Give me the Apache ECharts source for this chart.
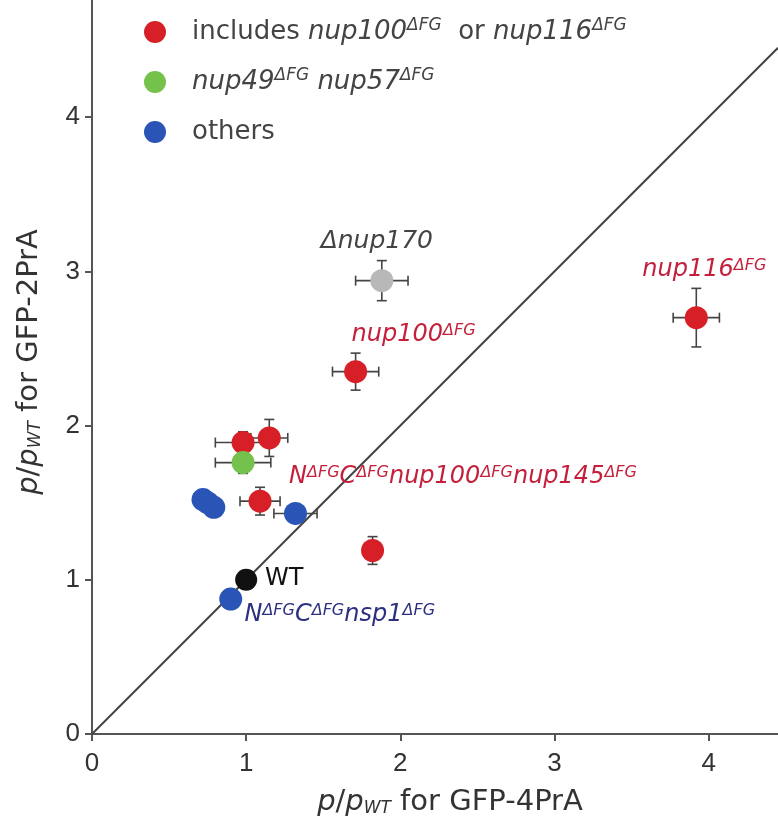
<!DOCTYPE html>
<html>
<head>
<meta charset="utf-8">
<script src="https://cdn.jsdelivr.net/npm/echarts@6/dist/echarts.min.js"></script>
<style>
  html, body { margin: 0; padding: 0; background: #fff; }
  #main { width: 778px; height: 836px; }
</style>
</head>
<body>
<div id="main"></div>
<script>
// values: x, y and the half widths of the error bars
const redX = [3.92, 1.71, 0.98, 1.15, 1.09, 1.82];
const redY = [2.70, 2.35, 1.89, 1.92, 1.51, 1.19];
const redXErr = [0.15, 0.15, 0.18, 0.12, 0.13, 0];
const redYErr = [0.19, 0.12, 0.07, 0.12, 0.09, 0.09];

const greenX = [0.98];
const greenY = [1.76];
const greenXErr = [0.18];
const greenYErr = [0.07];

const blueX = [0.72, 0.75, 0.79, 1.32, 0.90];
const blueY = [1.52, 1.50, 1.47, 1.43, 0.875];
const blueXErr = [0, 0, 0, 0.14, 0];
const blueYErr = [0, 0, 0, 0.02, 0];

const grayX = [1.88];
const grayY = [2.94];
const grayXErr = [0.17];
const grayYErr = [0.13];

const wtX = [1.0];
const wtY = [1.0];

const diagX = [0, 4.45];
const xTicks = [0, 1, 2, 3, 4];
const yTicks = [0, 1, 2, 3, 4];

const SANS = 'DejaVu Sans';
const NUM = 'Liberation Sans';
const RED = '#d61f26', GREEN = '#74c24b', BLUE = '#2a55b7', GRAY = '#b8b8b8';
const LRED = '#c41f3b', LBLUE = '#2d3080';

function rich(color) {
  return {
    fontSize: 24, color: color, fontStyle: 'italic', fontFamily: SANS
  };
}
function sup(color) {
  return {
    fontSize: 16, color: color, fontStyle: 'italic', fontFamily: SANS,
    verticalAlign: 'top', lineHeight: 14
  };
}

const richStyles = {
  t: { fontSize: 26, color: '#444', fontFamily: SANS },
  i: { fontSize: 26, color: '#444', fontStyle: 'italic', fontFamily: SANS },
  s: { fontSize: 17, color: '#444', fontStyle: 'italic', fontFamily: SANS, verticalAlign: 'top', lineHeight: 14 },
  ri: rich(LRED),
  rs: sup(LRED),
  bi: rich(LBLUE),
  bs: sup(LBLUE),
  gi: { fontSize: 25, color: '#444', fontStyle: 'italic', fontFamily: SANS },
  w: { fontSize: 24, color: '#111', fontFamily: SANS },
  sub: { fontSize: 17, color: '#333', fontStyle: 'italic', fontFamily: SANS, verticalAlign: 'bottom', lineHeight: 14 },
  ax: { fontSize: 29, color: '#333', fontFamily: SANS },
  axi: { fontSize: 29, color: '#333', fontStyle: 'italic', fontFamily: SANS }
};

function pts(xs, ys) {
  return xs.map((x, i) => [x, ys[i]]);
}
function errs(xs, ys, xe, ye) {
  return xs.map((x, i) => [x, ys[i], xe[i], ye[i]]);
}

function lbl(text, dx, dy) {
  return { show: true, position: 'inside', offset: [dx, dy], formatter: text, rich: richStyles };
}

const redData = pts(redX, redY).map(v => ({ value: v }));
redData[0].label = lbl('{ri|nup116}{rs|ΔFG}', 8, -48);
redData[1].label = lbl('{ri|nup100}{rs|ΔFG}', 58, -37);
redData[4].label = lbl('{ri|N}{rs|ΔFG}{ri|C}{rs|ΔFG}{ri|nup100}{rs|ΔFG}{ri|nup145}{rs|ΔFG}', 203, -24);

const blueData = pts(blueX, blueY).map(v => ({ value: v }));
blueData[4].label = lbl('{bi|N}{bs|ΔFG}{bi|C}{bs|ΔFG}{bi|nsp1}{bs|ΔFG}', 109, 16);

const grayData = pts(grayX, grayY).map(v => ({ value: v }));
grayData[0].label = lbl('{gi|Δnup170}', -5, -39);

const wtData = pts(wtX, wtY).map(v => ({ value: v }));
wtData[0].label = lbl('{w|WT}', 38, -1);

const allErr = [].concat(
  errs(redX, redY, redXErr, redYErr),
  errs(greenX, greenY, greenXErr, greenYErr),
  errs(blueX, blueY, blueXErr, blueYErr),
  errs(grayX, grayY, grayXErr, grayYErr)
);

function renderErr(params, api) {
  const x = api.value(0), y = api.value(1), xe = api.value(2), ye = api.value(3);
  const style = { stroke: '#444', lineWidth: 1.6 };
  const cap = 5;
  const children = [];
  if (xe > 0) {
    const a = api.coord([x - xe, y]), b = api.coord([x + xe, y]);
    children.push({ type: 'line', shape: { x1: a[0], y1: a[1], x2: b[0], y2: b[1] }, style });
    children.push({ type: 'line', shape: { x1: a[0], y1: a[1] - cap, x2: a[0], y2: a[1] + cap }, style });
    children.push({ type: 'line', shape: { x1: b[0], y1: b[1] - cap, x2: b[0], y2: b[1] + cap }, style });
  }
  if (ye > 0) {
    const a = api.coord([x, y - ye]), b = api.coord([x, y + ye]);
    children.push({ type: 'line', shape: { x1: a[0], y1: a[1], x2: b[0], y2: b[1] }, style });
    children.push({ type: 'line', shape: { x1: a[0] - cap, y1: a[1], x2: a[0] + cap, y2: a[1] }, style });
    children.push({ type: 'line', shape: { x1: b[0] - cap, y1: b[1], x2: b[0] + cap, y2: b[1] }, style });
  }
  return { type: 'group', children };
}

const legendText = {
  red: '{t|includes }{i|nup100}{s|ΔFG}{t|  or }{i|nup116}{s|ΔFG}',
  green: '{i|nup49}{s|ΔFG}{i| nup57}{s|ΔFG}',
  blue: '{t|others}'
};

const chart = echarts.init(document.getElementById('main'));
chart.setOption({
  animation: false,
  backgroundColor: '#fff',
  textStyle: { fontFamily: SANS },
  grid: { left: 92, right: 0, top: 0, bottom: 102 },
  legend: {
    orient: 'vertical',
    left: 139,
    top: 12,
    itemWidth: 22,
    itemHeight: 22,
    itemGap: 20,
    icon: 'circle',
    data: ['red', 'green', 'blue'],
    formatter: name => legendText[name],
    textStyle: { rich: richStyles, lineHeight: 30, padding: [0, 0, 0, 21] }
  },
  xAxis: {
    type: 'value',
    min: 0,
    max: 4.45,
    interval: 1,
    splitLine: { show: false },
    axisLine: { lineStyle: { color: '#555', width: 2 } },
    axisTick: { length: 7, customValues: xTicks, lineStyle: { color: '#555', width: 2 } },
    axisLabel: {
      margin: 17,
      fontSize: 26,
      color: '#333',
      fontFamily: NUM,
      customValues: xTicks
    },
    name: '{axi|p}{ax|/}{axi|p}{sub|WT}{ax| for GFP-4PrA}',
    nameLocation: 'middle',
    nameGap: 54,
    nameTextStyle: { rich: richStyles, padding: [0, 0, 0, 30] }
  },
  yAxis: {
    type: 'value',
    min: 0,
    max: 4.76,
    interval: 1,
    splitLine: { show: false },
    axisLine: { lineStyle: { color: '#555', width: 2 } },
    axisTick: { length: 7, customValues: yTicks, lineStyle: { color: '#555', width: 2 } },
    axisLabel: {
      margin: 12,
      fontSize: 26,
      color: '#333',
      fontFamily: NUM,
      customValues: yTicks
    },
    name: '{axi|p}{ax|/}{axi|p}{sub|WT}{ax| for GFP-2PrA}',
    nameLocation: 'middle',
    nameGap: 48,
    nameTextStyle: { rich: richStyles, padding: [0, 0, 0, 10] }
  },
  series: [
    {
      type: 'line',
      data: diagX.map(v => [v, v]),
      symbol: 'none',
      silent: true,
      lineStyle: { color: '#444', width: 2 },
      z: 1
    },
    {
      type: 'custom',
      renderItem: renderErr,
      data: allErr,
      silent: true,
      z: 2
    },
    {
      name: 'red',
      type: 'scatter',
      data: redData,
      symbolSize: 23,
      itemStyle: { color: RED, opacity: 1 },
      z: 3
    },
    {
      name: 'green',
      type: 'scatter',
      data: pts(greenX, greenY),
      symbolSize: 23,
      itemStyle: { color: GREEN, opacity: 1 },
      z: 3
    },
    {
      name: 'blue',
      type: 'scatter',
      data: blueData,
      symbolSize: 23,
      itemStyle: { color: BLUE, opacity: 1 },
      z: 3
    },
    {
      name: 'gray',
      type: 'scatter',
      data: grayData,
      symbolSize: 23,
      itemStyle: { color: GRAY, opacity: 1 },
      z: 3
    },
    {
      name: 'wt',
      type: 'scatter',
      data: wtData,
      symbolSize: 22,
      itemStyle: { color: '#111', opacity: 1 },
      z: 3
    }
  ]
});
</script>
</body>
</html>
